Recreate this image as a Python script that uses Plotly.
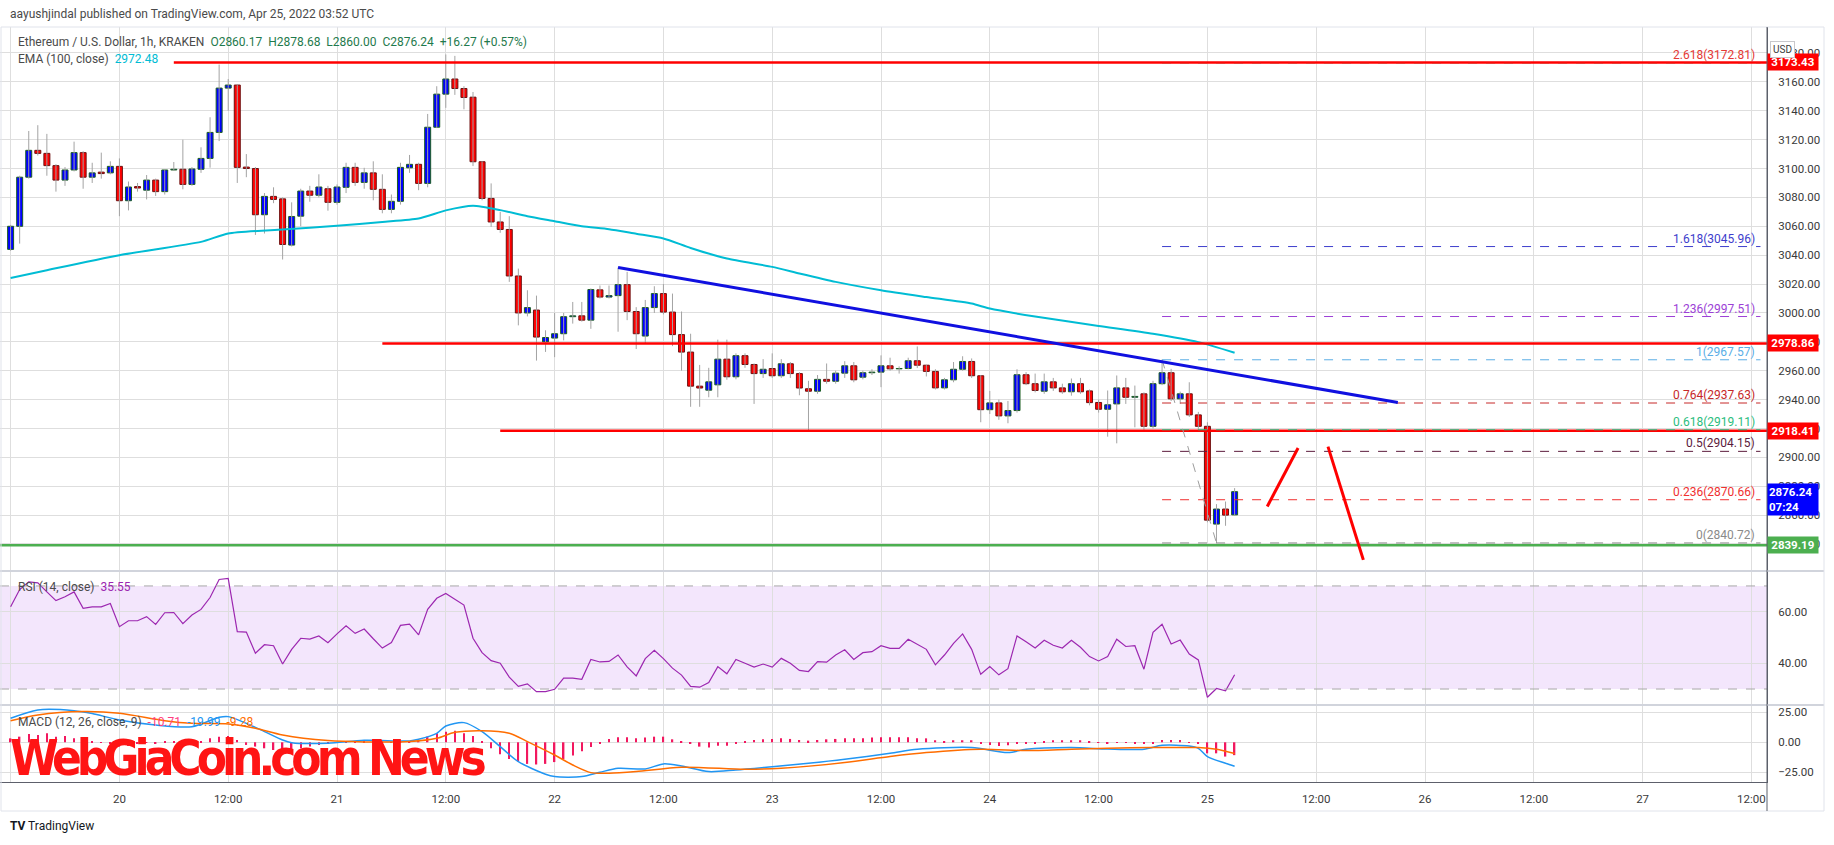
"""
ETH/USD 1h chart (TradingView style) rebuilt with Plotly
"""

import pandas as pd
import plotly.graph_objects as go

# ---- data -------------------------------------------------------------
START = pd.Timestamp('2022-04-19 12:00')

opens = [3044, 3060, 3094, 3112.6, 3110.5, 3102, 3092, 3099, 3111, 3094,
         3097.5, 3097, 3101.5, 3077.7, 3087.5, 3085, 3092, 3084, 3099, 3099.5,
         3089, 3099.5, 3107, 3125, 3155.7, 3157.8, 3101, 3100, 3068, 3080.7,
         3079, 3047, 3067, 3084.4, 3081.5, 3086, 3076.6, 3087, 3100.8, 3090.4,
         3097, 3085.6, 3071.7, 3077.3, 3100.5, 3102.9, 3089.7, 3128.6, 3151.5, 3162,
         3155.4, 3149.4, 3104.7, 3079.3, 3063, 3057.8, 3025.6, 3000, 3002, 2980,
         2982.6, 2985.6, 2997.4, 2998, 2995, 3016, 3011, 3012, 3019.6, 3001,
         2984, 3003.7, 3013.4, 3000.6, 2985, 2972.9, 2949.3, 2946.5, 2950.2, 2968,
         2955.8, 2970.4, 2964.3, 2958, 2961.5, 2956.5, 2964.8, 2958, 2947.5, 2945.8,
         2954, 2952.7, 2958.3, 2963.4, 2955.5, 2958.6, 2959, 2963.4, 2961.3, 2961.5,
         2966.9, 2963.8, 2959.5, 2948.1, 2953.7, 2961, 2966.4, 2956.5, 2933, 2937.7,
         2928.7, 2932.4, 2957.2, 2951, 2945.8, 2952.3, 2948.1, 2945.4, 2951, 2946,
         2938, 2933.3, 2937, 2948.1, 2941.6, 2944, 2921.5, 2951, 2958.6, 2940.5,
         2944, 2929.4, 2921.5, 2853.8, 2864.2, 2860.17]
highs = [3061, 3095, 3126, 3130, 3124, 3103, 3101, 3118.6, 3112, 3104,
         3111, 3105, 3107, 3091, 3090, 3095.5, 3093, 3099.5, 3104.5, 3120,
         3101, 3114.7, 3135.5, 3172, 3162, 3158, 3110, 3101, 3083, 3087,
         3080, 3076.6, 3086, 3088, 3096, 3088, 3089, 3104, 3104, 3100.5,
         3105, 3096, 3082, 3104, 3109.4, 3104, 3137.8, 3157, 3179, 3178,
         3157, 3153, 3105, 3089.7, 3070, 3067, 3030.7, 3015.7, 3012, 2988,
         3000, 3000, 3007.6, 3007.6, 3017, 3019, 3019, 3031.4, 3028.4, 3004,
         3009, 3018.5, 3020, 3013.4, 3001, 2985.6, 2964, 2962, 2981.5, 2981.5,
         2972, 2972, 2965, 2968, 2972, 2968, 2966, 2959, 2953, 2957,
         2965, 2960, 2966.6, 2966, 2960, 2961, 2970.6, 2969, 2963, 2969,
         2976.8, 2964, 2961, 2955, 2966, 2970, 2968.5, 2957, 2946, 2940,
         2939, 2961, 2959, 2958, 2958, 2955, 2951, 2954.6, 2955, 2947,
         2940, 2946.3, 2956.7, 2955, 2949.7, 2945, 2953, 2967.57, 2961.3, 2945.5,
         2952, 2931.5, 2924.3, 2867.6, 2869.4, 2878.68]
lows = [3043, 3048, 3093, 3109, 3095, 3084, 3088, 3098, 3086, 3090,
        3093, 3096, 3067, 3071, 3084, 3078.6, 3081, 3082, 3098.5, 3085.6,
        3088, 3097, 3100.6, 3119, 3140, 3090, 3094, 3054, 3055, 3076,
        3037, 3046, 3060, 3077, 3080, 3070.8, 3075, 3083, 3088, 3086,
        3078, 3069, 3069, 3075, 3097, 3085, 3087, 3128, 3142, 3151,
        3141, 3101.7, 3078, 3059.6, 3055.5, 3021.5, 2991.4, 2997.6, 2967, 2973,
        2969.4, 2981, 2992.6, 2994, 2989, 3010, 3010, 2987, 2995, 2975,
        2979, 3000, 2999, 2977, 2960, 2935, 2935, 2941.6, 2941.6, 2953.7,
        2954, 2962, 2937, 2955, 2955, 2955, 2955, 2943, 2918.5, 2944,
        2951, 2951, 2955, 2952, 2954, 2957, 2948.6, 2960, 2958, 2961,
        2961.8, 2956, 2947, 2947, 2952, 2960, 2955, 2924.3, 2930, 2926,
        2923.6, 2931, 2950, 2945, 2944, 2946, 2944, 2942.7, 2944, 2936,
        2931, 2914.3, 2909.7, 2937, 2920.8, 2919, 2920, 2950, 2939, 2937,
        2928, 2919, 2855, 2840.72, 2852.6, 2860]
closes = [3060, 3094, 3112.6, 3110.5, 3102, 3092, 3099, 3111, 3094, 3097,
          3096.5, 3101.5, 3077.7, 3087.2, 3086.5, 3092, 3084, 3099, 3099.5, 3089,
          3099.7, 3107, 3125, 3155.7, 3157.8, 3100.8, 3100, 3068, 3080.7, 3078.6,
          3047.4, 3066.8, 3084.4, 3081.5, 3087.2, 3076.6, 3087.2, 3100.8, 3090.4, 3097,
          3085.6, 3071.7, 3077.3, 3100.8, 3102.9, 3089.7, 3128.6, 3151.5, 3162, 3155.4,
          3149.2, 3104.7, 3079.3, 3063, 3057.8, 3025.6, 3000, 3003.7, 2983.3, 2983,
          2985.6, 2997.4, 2998, 2995, 3016.2, 3011, 3012, 3019.6, 3001, 2985.6,
          3003.7, 3013.4, 3000.6, 2985, 2972.9, 2949.3, 2948, 2952.3, 2968, 2955.8,
          2970.4, 2964.3, 2958, 2961, 2956.5, 2964.8, 2958, 2948, 2945.8, 2954,
          2952.7, 2958.3, 2963.4, 2953.7, 2958.6, 2959, 2963.4, 2961.3, 2961.5, 2966.9,
          2963.8, 2959.5, 2948.1, 2953.7, 2961, 2966.4, 2956.5, 2933, 2937.7, 2928.7,
          2932.4, 2957.2, 2951, 2946.3, 2952.3, 2948.1, 2945.4, 2951, 2945.4, 2937.9,
          2933.3, 2936.4, 2948.1, 2941.6, 2942.2, 2921.5, 2951, 2958.6, 2940.5, 2944,
          2929.4, 2921.5, 2856.5, 2864.2, 2860, 2876.24]

# EMA(100) read at selected candles (candle index, value)
ema_idx = [0, 4, 12, 21, 24, 30, 36, 41, 45, 48, 51, 54, 57, 60, 63, 66, 69, 72,
           75, 79, 84, 87, 91, 96, 101, 106, 108, 113, 120, 126, 131, 135]
ema_val = [3024.2, 3029.6, 3040, 3049.2, 3055, 3057.8, 3060.3, 3063, 3065.4, 3071,
           3074.2, 3071.2, 3067, 3063.5, 3060, 3058, 3054.8, 3051.6, 3045, 3037.7,
           3031.9, 3027.3, 3021.5, 3015.7, 3011, 3006.5, 3003, 2997.5, 2991, 2985.6,
           2979.8, 2972.48]

rsi = [61.9, 68.6, 71.6, 71.2, 67.7, 64.3, 65.8, 67.7, 61.3, 61.9,
       61.9, 63.2, 54.2, 56.5, 56.5, 58.1, 55.1, 59.6, 59.7, 55.4,
       58.7, 60.9, 65.5, 72.5, 72.9, 52.3, 52.1, 43.9, 47.2, 46.8,
       39.7, 45.4, 49.7, 49.4, 50.6, 48.0, 51.4, 54.5, 51.6, 53.3,
       49.5, 45.9, 48.0, 54.7, 55.2, 51.0, 60.9, 65.2, 67.1, 64.9,
       62.6, 49.7, 44.1, 41.0, 40.0, 34.6, 31.0, 32.0, 29.0, 29.0,
       29.9, 34.2, 34.2, 33.8, 41.5, 40.5, 40.7, 43.2, 38.6, 35.1,
       41.8, 45.0, 41.8, 38.1, 35.4, 31.0, 30.7, 32.5, 38.7, 35.9,
       41.5, 40.0, 38.5, 39.7, 38.5, 41.9, 40.0, 37.2, 36.8, 40.6,
       40.4, 43.2, 45.2, 41.5, 44.1, 44.5, 46.8, 45.8, 45.8, 49.3,
       47.5, 45.4, 39.4, 43.2, 47.7, 51.4, 45.4, 35.7, 38.7, 35.5,
       37.9, 50.6, 48.3, 45.9, 48.9, 47.0, 45.9, 48.9, 46.2, 42.6,
       40.9, 42.6, 49.3, 46.5, 46.8, 37.7, 52.0, 55.1, 47.5, 49.0,
       43.6, 41.3, 26.8, 30.2, 29.3, 35.55]

macd_idx = [0, 3, 7, 9, 12, 16, 20, 23, 24, 26, 28, 30, 31, 35, 39, 44, 45, 47,
            48, 50, 52, 54, 56, 59, 60, 63, 65, 67, 70, 72, 74, 77, 80, 84, 88,
            92, 97, 100, 106, 110, 112, 117, 121, 125, 127, 130, 131, 132, 134, 135]
macd_val = [20, 27, 26.4, 24, 18.6, 14.4, 13, 20.8, 21.4, 15.8, 8.9, 1.9, -0.3,
            -0.8, 1.7, 1.1, 2.5, 7.5, 13.6, 16.4, 8.9, -3.6, -16.1, -26.7, -28.6,
            -28.6, -25, -21.7, -22.2, -18, -19.7, -24.4, -23, -20.3, -17.5, -14.2,
            -9.2, -5.8, -4.4, -8.6, -5.8, -4.4, -5.6, -5.8, -2.5, -3.1, -5, -11.9,
            -17.5, -19.99]

signal_idx = [0, 3, 8, 12, 17, 20, 24, 27, 30, 35, 39, 44, 47, 49, 52, 55, 57,
              60, 62, 64, 66, 69, 74, 81, 85, 92, 97, 101, 107, 112, 117, 121,
              126, 131, 133, 135]
signal_val = [18, 22.8, 25.6, 24.2, 18, 15.8, 15.3, 11.7, 6.1, 1.4, 0.3, 0.6,
              3.3, 8.3, 9.7, 7.5, 0.6, -10.6, -18.9, -25.3, -25.8, -24.4, -20.8,
              -22.5, -21.7, -16.9, -11.9, -8.6, -5.8, -6.9, -5.8, -5, -4.4, -4.4,
              -5.8, -9.28]

hist = [3.3, 4.7, 6.9, 6.1, 7.5, 4.7, 5.3, 3.3, 1.9, 0.6,
        -0.3, -0.8, -3.6, -3.1, -0.8, -0.3, -0.8, 0.6, 0.6, -0.3,
        -0.3, 0.6, 3.3, 4.7, 5.3, 1.9, -2.2, -3.6, -5, -6.4,
        -7.8, -6.9, -5, -3.6, -2.2, -1.4, -0.3, 0.6, 0.6, 0.6,
        -0.3, -0.3, -0.3, 0.6, 1.1, 1.9, 4.7, 7.5, 8.9, 9.7,
        7.5, 5.3, 0.6, -5, -10, -14, -16, -18, -18.5, -18,
        -16.5, -14, -11, -7.5, -4, -1, 2.8, 4.2, 4.2, 3.3,
        3.9, 4.7, 4.7, 2.5, 1.1, -1.4, -3.6, -4.4, -2.8, -2.8,
        -1.4, 0.6, 1.9, 2.5, 2.8, 3.3, 2.8, 1.9, 1.4, 1.9,
        2.5, 2.8, 3.3, 3.3, 3.3, 3.9, 4.2, 4.2, 4.2, 4.2,
        3.3, 3.3, 1.7, 0.6, 1.7, 1.7, 1.7, -1.1, -2.2, -3.1,
        -2.5, -0.8, -0.6, -0.6, 1.1, 1.7, 1.7, 1.7, 1.7, 0.6,
        -0.3, -0.8, -0.3, -0.3, -0.8, -1.4, -0.8, 1.9, 1.9, 1.9,
        -0.3, -0.6, -9.2, -9.2, -11.9, -10.71]

# horizontal levels drawn on the chart (price, start candle index)
level_prices = [3173.43, 2978.86, 2918.41, 2839.19]
level_start = [18, 41, 54, -2]
level_colors = ['#ff0000', '#ff0000', '#ff0000', '#4caf50']

# fibonacci extension drawing
fib_ratios = ['2.618', '1.618', '1.236', '1', '0.764', '0.618', '0.5', '0.236', '0']
fib_prices = [3172.81, 3045.96, 2997.51, 2967.57, 2937.63, 2919.11, 2904.15, 2870.66, 2840.72]
fib_colors = ['#e53935', '#3d3dcc', '#9c3fd6', '#5aaee6', '#c62828', '#2bbd7e',
              '#5c1a3c', '#f03030', '#8a8a8a']
fib_span = [127, 193]
fib_diag_idx = [127, 133]
fib_diag_price = [2967.57, 2840.72]

# trend line and projected path
trend_idx = [67, 153]
trend_price = [3031.4, 2938]
proj1_idx = [138.6, 142.0]
proj1_price = [2866, 2906.5]
proj2_idx = [145.3, 149.2]
proj2_price = [2907.4, 2829]

# x axis labels every 12h from Apr 19 12:00
x_labels = ['12:00', '20', '12:00', '21', '12:00', '22', '12:00', '23', '12:00',
            '24', '12:00', '25', '12:00', '26', '12:00', '27', '12:00']

# ---- helpers ----------------------------------------------------------
W, H = 1834, 845
FONT = 'Trebuchet MS, Roboto, sans-serif'
GRID = '#dedede'


def t(h):
    return START + pd.to_timedelta(h, unit='h')


def py(px):
    """paper y from pixel row"""
    return 1 - px / H


def pxx(px):
    return px / W


times = [t(i) for i in range(len(closes))]
X0, X1 = t(-1.17), t(193.72)

fig = go.Figure()

# wicks
wx, wy = [], []
for tt, lo, hi in zip(times, lows, highs):
    wx += [tt, tt, None]
    wy += [lo, hi, None]
fig.add_trace(go.Scatter(x=wx, y=wy, mode='lines', line=dict(color='#a3a3a3', width=1),
                         hoverinfo='skip', yaxis='y'))

# bodies
up = [c >= o for o, c in zip(opens, closes)]
fig.add_trace(go.Bar(
    x=times, y=[c - o for o, c in zip(opens, closes)], base=opens,
    width=0.66 * 3600000,
    marker=dict(color=['#0000ff' if u else '#ff0000' for u in up],
                line=dict(color=['#1b5e20' if u else '#6d1010' for u in up], width=1)),
    yaxis='y', hoverinfo='skip'))

# EMA
fig.add_trace(go.Scatter(x=[t(i) for i in ema_idx], y=ema_val, mode='lines',
                         line=dict(color='#00bcd4', width=2, shape='spline', smoothing=0.6),
                         yaxis='y', hoverinfo='skip'))

# horizontal levels
for p, s, c in zip(level_prices, level_start, level_colors):
    fig.add_trace(go.Scatter(x=[t(s), X1], y=[p, p], mode='lines',
                             line=dict(color=c, width=2.5), yaxis='y', hoverinfo='skip'))

# fib levels
for r, p, c in zip(fib_ratios, fib_prices, fib_colors):
    fig.add_trace(go.Scatter(x=[t(fib_span[0]), t(fib_span[1])], y=[p, p], mode='lines',
                             line=dict(color=c, width=1, dash='dash'), yaxis='y',
                             hoverinfo='skip'))
    fig.add_annotation(x=t(fib_span[1] - 0.4), y=p, xref='x', yref='y', text=f'{r}({p:.2f})',
                       xanchor='right', yanchor='bottom', showarrow=False,
                       font=dict(family=FONT, size=12, color=c), yshift=-1)
fig.add_trace(go.Scatter(x=[t(i) for i in fib_diag_idx], y=fib_diag_price, mode='lines',
                         line=dict(color='#9e9e9e', width=1, dash='dash'), yaxis='y',
                         hoverinfo='skip'))

# trend line + projection
fig.add_trace(go.Scatter(x=[t(i) for i in trend_idx], y=trend_price, mode='lines',
                         line=dict(color='#1010e0', width=3), yaxis='y', hoverinfo='skip'))
for ix, pr in [(proj1_idx, proj1_price), (proj2_idx, proj2_price)]:
    fig.add_trace(go.Scatter(x=[t(i) for i in ix], y=pr, mode='lines',
                             line=dict(color='#ff0000', width=3), yaxis='y', hoverinfo='skip'))

# RSI
fig.add_trace(go.Scatter(x=times, y=rsi, mode='lines', line=dict(color='#9c27b0', width=1.2),
                         yaxis='y2', hoverinfo='skip'))

# MACD
fig.add_trace(go.Bar(x=times, y=hist, width=0.16 * 3600000, marker=dict(color='#f2185f', line=dict(width=0)),
                     yaxis='y3', hoverinfo='skip'))
fig.add_trace(go.Scatter(x=[t(i) for i in macd_idx], y=macd_val, mode='lines',
                         line=dict(color='#2196f3', width=1.5, shape='spline', smoothing=0.8),
                         yaxis='y3', hoverinfo='skip'))
fig.add_trace(go.Scatter(x=[t(i) for i in signal_idx], y=signal_val, mode='lines',
                         line=dict(color='#ff6d00', width=1.5, shape='spline', smoothing=0.8),
                         yaxis='y3', hoverinfo='skip'))

# ---- layout -----------------------------------------------------------
AX_R = 1767 / W
yax_common = dict(side='right', anchor='x', showgrid=True, gridcolor=GRID, zeroline=False,
                  ticks='', ticklabelstandoff=8, showline=True, linecolor='#5d606b',
                  automargin=False,
                  tickfont=dict(family=FONT, size=11.5, color='#3a3a3a'), fixedrange=True)

fig.update_layout(
    width=W, height=H, margin=dict(l=0, r=0, t=0, b=0, autoexpand=False),
    plot_bgcolor='white', paper_bgcolor='white', showlegend=False, barmode='overlay',
    xaxis=dict(domain=[0, AX_R], anchor='y3', range=[X0, X1], showgrid=True, gridcolor=GRID,
               tickvals=[t(12 * k) for k in range(len(x_labels))], ticktext=x_labels,
               ticks='', ticklabelstandoff=6, showline=True, linecolor='#5d606b',
               automargin=False,
               tickfont=dict(family=FONT, size=11.5, color='#3a3a3a'), zeroline=False),
    yaxis=dict(domain=[py(571), py(27)], range=[2821.3, 3198],
               tickvals=list(range(2840, 3181, 20)), tickformat='.2f', **yax_common),
    yaxis2=dict(domain=[py(705), py(571)], range=[23.8, 75.8], tickvals=[40, 60],
                tickformat='.2f', **yax_common),
    yaxis3=dict(domain=[py(782), py(705)], range=[-33.1, 31.1], tickvals=[-25, 0, 25],
                tickformat='.2f', **yax_common),
)

# RSI band
fig.add_shape(type='rect', xref='paper', yref='y2', x0=0, x1=AX_R, y0=30, y1=70,
              fillcolor='#f3e6fc', line=dict(width=0), layer='below')
for lv in [70, 30]:
    fig.add_shape(type='line', xref='paper', yref='y2', x0=0, x1=AX_R, y0=lv, y1=lv,
                  line=dict(color='#a8a8a8', width=1, dash='dash'))

# pane separators and frame
for yy in [571, 705]:
    fig.add_shape(type='line', xref='paper', yref='paper', x0=0, x1=pxx(1824), y0=py(yy), y1=py(yy),
                  line=dict(color='#d1d4dc', width=2))
fig.add_shape(type='rect', xref='paper', yref='paper', x0=pxx(1), x1=pxx(1824), y0=py(811), y1=py(27),
              line=dict(color='#e0e3eb', width=1))
fig.add_shape(type='line', xref='paper', yref='paper', x0=AX_R, x1=AX_R, y0=py(811), y1=py(27),
              line=dict(color='#5d606b', width=1))

# price boxes on the axis
for p, c in zip(level_prices, level_colors):
    fig.add_annotation(xref='paper', yref='y', x=pxx(1767), y=p, xanchor='left', yanchor='middle',
                       text=f'<b>{p:.2f}</b>', showarrow=False, bgcolor=c, width=48, borderpad=1,
                       font=dict(family=FONT, size=11.5, color='white'))
fig.add_annotation(xref='paper', yref='y', x=pxx(1767), y=closes[-1], xanchor='left', yanchor='top',
                   text=f'<b>{closes[-1]:.2f}<br>07:24</b>', showarrow=False, bgcolor='#0000ff',
                   width=48, borderpad=1, yshift=9, align='left',
                   font=dict(family=FONT, size=11.5, color='white'))
fig.add_annotation(xref='paper', yref='paper', x=pxx(1795), y=py(41), text='USD', showarrow=False,
                   bgcolor='white', bordercolor='#c8c8cc', borderwidth=1, borderpad=2,
                   font=dict(family=FONT, size=10, color='#3a3a3a'))

# header / legends
def label(x, y, text, size=11.5):
    fig.add_annotation(xref='paper', yref='paper', x=pxx(x), y=py(y), xanchor='left',
                       yanchor='middle', text=text, showarrow=False,
                       font=dict(family=FONT, size=size, color='#4a4a4a'))


label(8, 14, 'aayushjindal published on TradingView.com, Apr 25, 2022 03:52 UTC', 12)
G = '#1f7a4d'
label(16, 42, 'Ethereum / U.S. Dollar, 1h, KRAKEN  '
      f'<span style="color:{G}">O{opens[-1]:.2f}  H{highs[-1]:.2f}  L{lows[-1]:.2f}  '
      f'C{closes[-1]:.2f}  +16.27 (+0.57%)</span>', 12)
label(16, 59, f'EMA (100, close)  <span style="color:#00bcd4">{ema_val[-1]:.2f}</span>', 12)
label(16, 587, f'RSI (14, close)  <span style="color:#9c27b0">{rsi[-1]:.2f}</span>', 12)
label(16, 722, f'MACD (12, 26, close, 9)  <span style="color:#ff3d7f">{hist[-1]:.2f}</span>  '
      f'<span style="color:#2196f3">{macd_val[-1]:.2f}</span>  '
      f'<span style="color:#ff6d00">{signal_val[-1]:.2f}</span>', 12)

# watermark
fig.add_annotation(xref='paper', yref='paper', x=pxx(8), y=py(758), xanchor='left', yanchor='middle',
                   text='<b><span style="letter-spacing:-5px">WebGiaCoin.com News</span></b>',
                   showarrow=False,
                   font=dict(family='DejaVu Sans Condensed, sans-serif', size=49, color='#ff1414'))

# footer
fig.add_annotation(xref='paper', yref='paper', x=pxx(8), y=py(826), xanchor='left', yanchor='middle',
                   text='<b>TV</b> TradingView', showarrow=False,
                   font=dict(family=FONT, size=12, color='#131722'))

# page body has an 8px default margin; drop it so the chart sits at the top-left corner
fig.write_html('out.html', config={'displayModeBar': False},
               post_script="document.body.style.margin='0px';")
